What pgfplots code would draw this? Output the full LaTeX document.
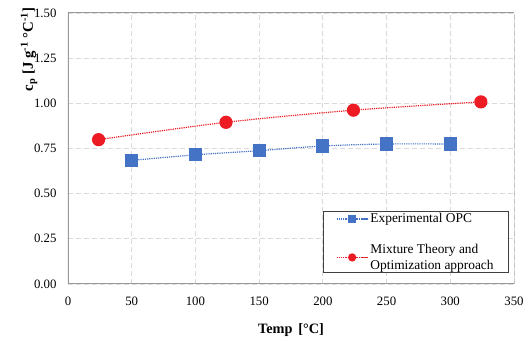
\documentclass[border=0pt]{standalone}
\usepackage{fontspec}
\setmainfont{Liberation Serif}
\usepackage{pgfplots}
\pgfplotsset{compat=1.18}
\definecolor{myblue}{RGB}{68,114,196}
\definecolor{myred}{RGB}{237,28,36}
\definecolor{gridgray}{RGB}{217,217,217}
\begin{document}
\begin{tikzpicture}
\begin{axis}[
  name=ax,
  scale only axis,
  width=446pt, height=271pt,
  xmin=0, xmax=350, ymin=0, ymax=1.5,
  xtick={0,50,...,350},
  ytick={0,0.25,...,1.5},
  yticklabel style={xshift=-8pt, /pgf/number format/fixed, /pgf/number format/fixed zerofill, /pgf/number format/precision=2},
  /pgf/number format/assume math mode=true,
  ticklabel style={font=\fontsize{12.8}{14}\selectfont},
  xticklabel style={yshift=-9pt},
  tick style={draw=none},
  grid=major,
  major grid style={gridgray, dashed, dash pattern=on 5pt off 3pt, line width=0.8pt},
  axis line style={draw=none},
  xlabel={\textbf{Temp\, [°C]}},
  xlabel style={font=\fontsize{14.3}{15}\selectfont, yshift=-12pt},
  ylabel={\textbf{c\textsubscript{p} [J g\textsuperscript{-1} °C\textsuperscript{-1}]}},
  ylabel style={font=\fontsize{14.8}{16}\selectfont, at={(rel axis cs:0,0.866)}, anchor=center, yshift=39pt},
  legend style={at={(rel axis cs:1,0)}, anchor=south east, xshift=-5pt, yshift=11pt,
     draw=black!75, line width=0.8pt, font=\fontsize{13.4}{15.5}\selectfont,
     cells={align=left, anchor=west}, row sep=16pt, inner xsep=13pt, inner ysep=0pt},
  legend cell align=left,
  legend image code/.code={\draw[#1, mark repeat=2, mark phase=2, mark size=3.5pt] plot coordinates {(0cm,0cm) (0.55cm,0cm) (1.1cm,0cm)};},
]
\draw[gray!80, line width=1pt] (rel axis cs:0,1) -- (rel axis cs:1,1);
\draw[black!85, line width=1pt] (rel axis cs:1,1) -- (rel axis cs:1,0);
\draw[gray!80, line width=1.2pt] (rel axis cs:0,1) -- (rel axis cs:0,0) -- (rel axis cs:1,0);
\addplot[myblue, densely dotted, line width=1.2pt, smooth, mark=square*, mark size=6pt, mark options={solid, fill=myblue, draw=myblue}]
  coordinates {(50,0.684) (100,0.715) (150,0.738) (200,0.764) (250,0.775) (300,0.775)};
\addlegendentry{Experimental OPC}
\addplot[myred, densely dotted, line width=1.2pt, smooth, mark=*, mark size=6pt, mark options={solid, fill=myred, draw=myred}]
  coordinates {(24,0.799) (124,0.895) (224,0.962) (324,1.008)};
\addlegendentry{Mixture Theory and\\Optimization approach}
\end{axis}
\path ([xshift=-68pt,yshift=-57pt]ax.south west) rectangle ([xshift=17pt,yshift=13pt]ax.north east);
\end{tikzpicture}
\end{document}
